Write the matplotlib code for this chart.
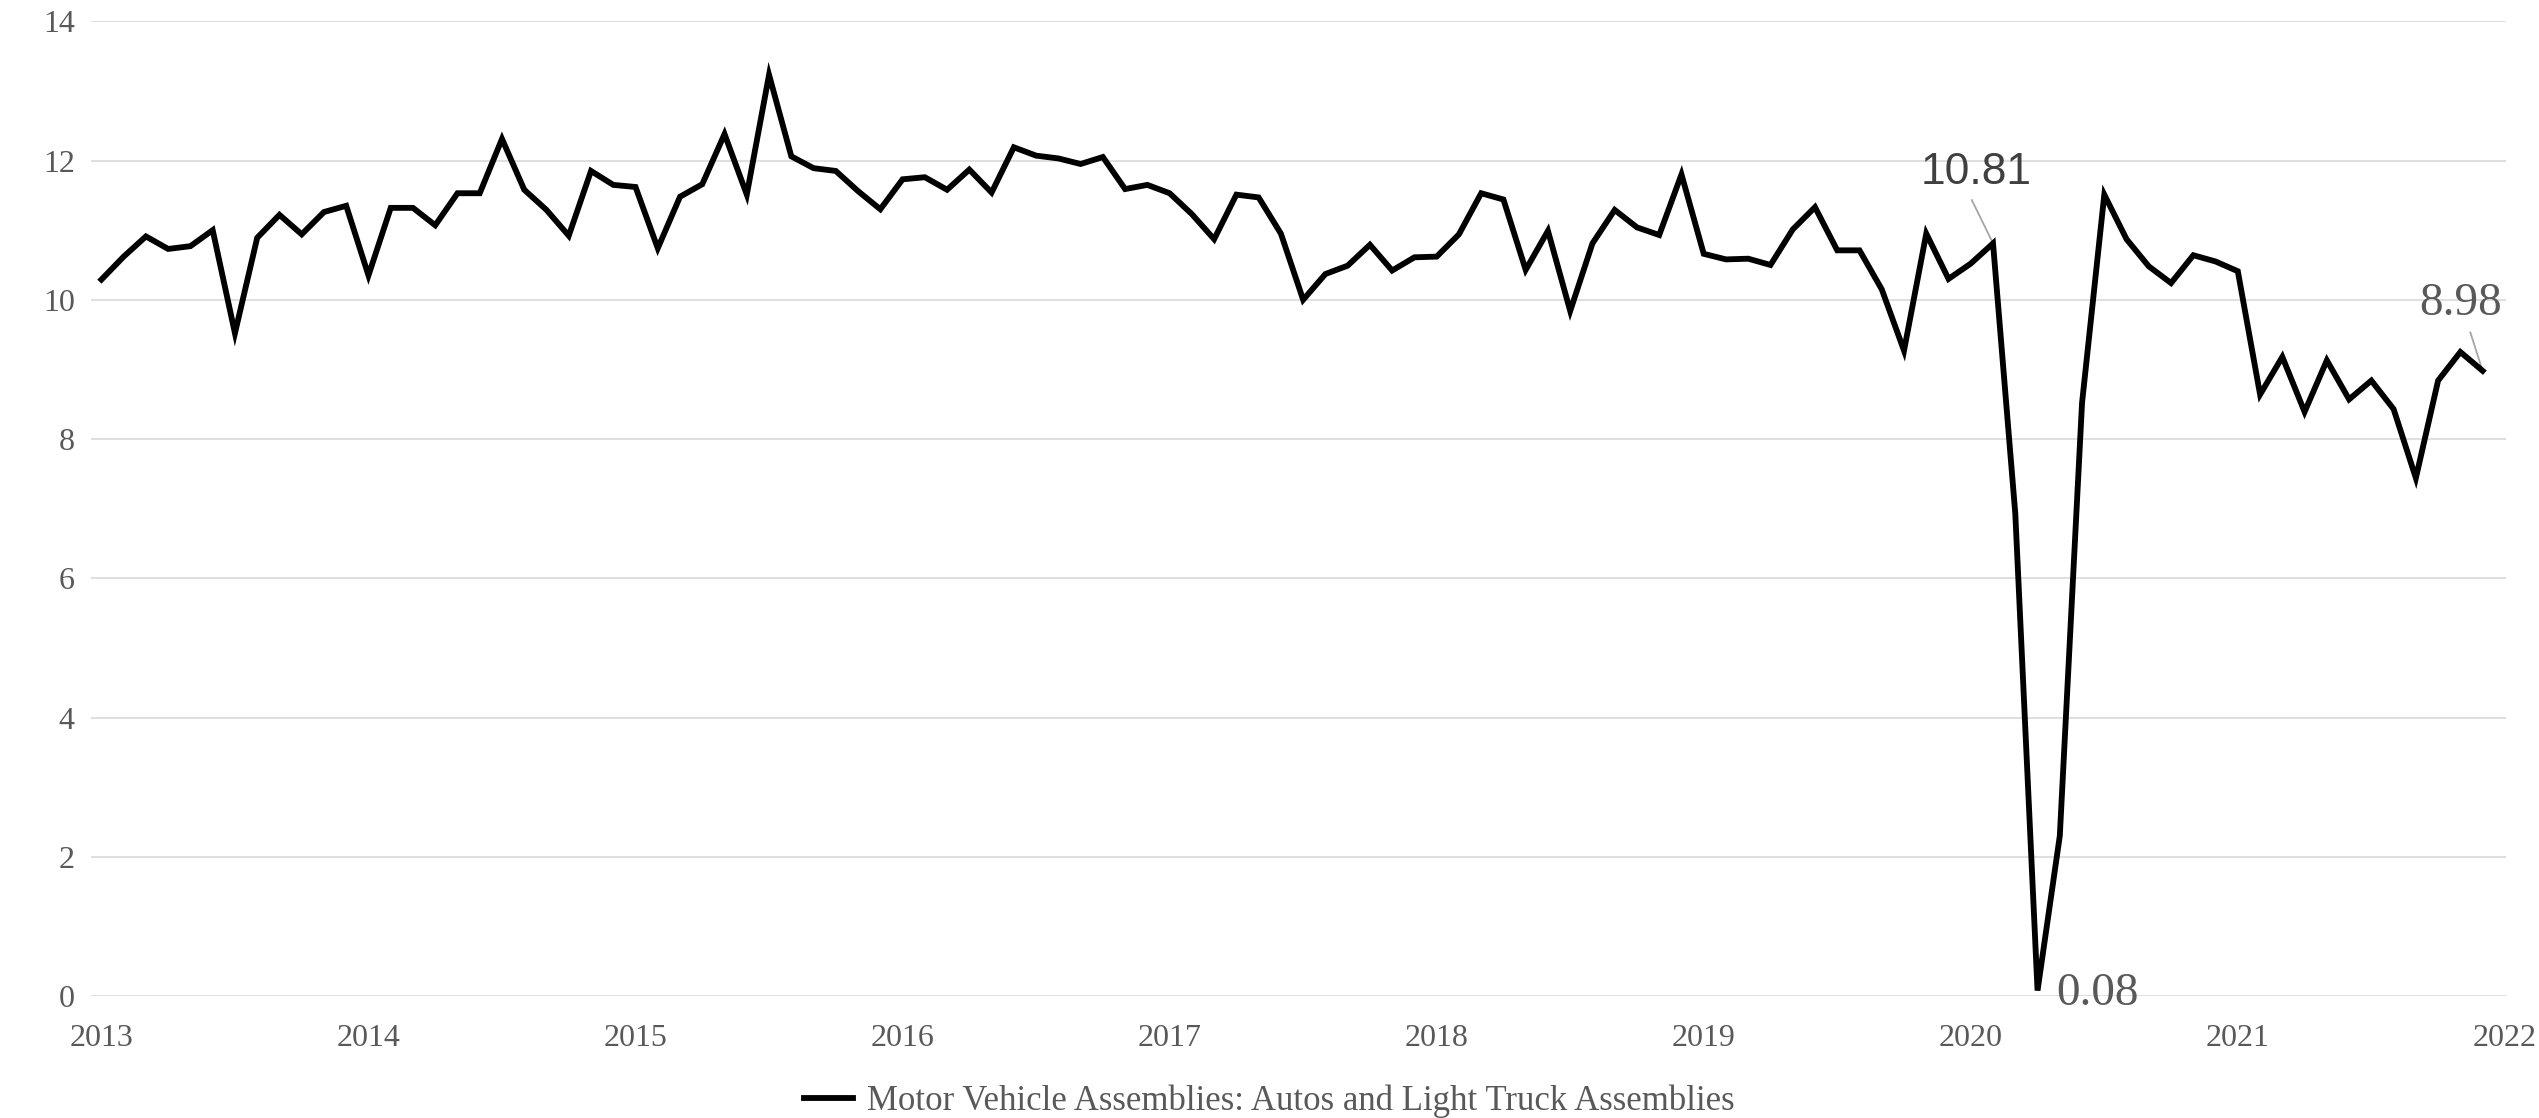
import numpy as np
import matplotlib.pyplot as plt

# Monthly assemblies, millions of units (SAAR), Jan 2013 - Dec 2021
years = [2013, 2014, 2015, 2016, 2017, 2018, 2019, 2020, 2021, 2022]
assemblies = [
    10.29, 10.62, 10.91, 10.73, 10.77, 11.00, 9.52, 10.89, 11.22, 10.94, 11.26, 11.35,   # 2013
    10.35, 11.32, 11.32, 11.07, 11.53, 11.53, 12.31, 11.58, 11.29, 10.92, 11.85, 11.65,  # 2014
    11.62, 10.74, 11.48, 11.66, 12.38, 11.51, 13.23, 12.06, 11.89, 11.85, 11.56, 11.30,  # 2015
    11.73, 11.76, 11.58, 11.87, 11.54, 12.19, 12.07, 12.03, 11.95, 12.05, 11.59, 11.65,  # 2016
    11.53, 11.23, 10.87, 11.51, 11.47, 10.95, 10.00, 10.37, 10.49, 10.79, 10.42, 10.61,  # 2017
    10.62, 10.94, 11.53, 11.44, 10.43, 10.99, 9.84, 10.81, 11.29, 11.04, 10.93, 11.80,   # 2018
    10.66, 10.58, 10.59, 10.50, 11.01, 11.33, 10.71, 10.71, 10.15, 9.27, 10.95, 10.30,   # 2019
    10.52, 10.81, 6.93, 0.08, 2.30, 8.52, 11.51, 10.87, 10.48, 10.24, 10.64, 10.55,      # 2020
    10.41, 8.64, 9.18, 8.39, 9.13, 8.57, 8.84, 8.43, 7.44, 8.84, 9.25, 8.98,             # 2021
]
series_name = "Motor Vehicle Assemblies: Autos and Light Truck Assemblies"
yticks = [0, 2, 4, 6, 8, 10, 12, 14]

# points that get a value label: (month index, label text)
labelled = [(85, "10.81"), (87, "0.08"), (107, "8.98")]

months = np.arange(len(assemblies))
tick_gray = "#595959"

fig = plt.figure(figsize=(25.39, 11.18), dpi=100)
ax = fig.add_axes([0.036, 0.109, 0.951, 0.872])

ax.plot(months, assemblies, color="black", lw=4.2, solid_joinstyle="miter",
        label=series_name, zorder=3)

ax.set_ylim(0, 14)
ax.set_xlim(-0.45, 108.05)
ax.set_yticks(yticks)
ax.set_yticklabels([str(v) for v in yticks])
ax.set_xticks(np.arange(0, 12 * len(years), 12))
ax.set_xticklabels([str(y) for y in years])
ax.grid(axis="y", color="#d9d9d9", lw=1.2, zorder=0)
ax.grid(axis="x", visible=False)
for s in ax.spines.values():
    s.set_visible(False)
ax.tick_params(axis="both", length=0, colors=tick_gray)
ax.tick_params(axis="y", pad=12)
ax.tick_params(axis="x", pad=20)
for lab in ax.get_xticklabels() + ax.get_yticklabels():
    lab.set_fontfamily("Liberation Serif")
    lab.set_fontsize(23)
    lab.set_color(tick_gray)

# value labels with thin leader lines
i, txt = labelled[0]
v = assemblies[i]
ax.plot([i, i - 0.95], [v, v + 0.62], color="#a6a6a6", lw=1.3, zorder=2)
ax.text(i - 0.75, v + 0.72, txt, ha="center", va="bottom", fontsize=32,
        family="Liberation Sans", color="#404040")

i, txt = labelled[1]
v = assemblies[i]
ax.text(i + 0.85, v - 0.04, txt, ha="left", va="center", fontsize=34,
        family="Liberation Serif", color=tick_gray)

i, txt = labelled[2]
v = assemblies[i]
ax.plot([i, i - 0.55], [v, v + 0.55], color="#a6a6a6", lw=1.3, zorder=2)
ax.text(i - 1.0, v + 0.66, txt, ha="center", va="bottom", fontsize=34,
        family="Liberation Serif", color=tick_gray)

leg = fig.legend(loc="lower center", bbox_to_anchor=(0.5, -0.028), frameon=False,
                 handlelength=1.4, handletextpad=0.4,
                 prop={"family": "Liberation Serif", "size": 25})
for t in leg.get_texts():
    t.set_color(tick_gray)

fig.savefig("out.png", dpi=100)
